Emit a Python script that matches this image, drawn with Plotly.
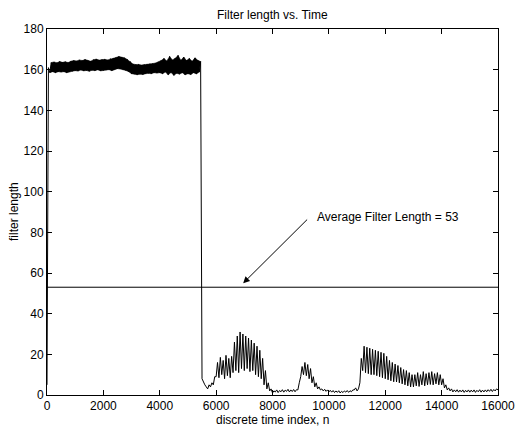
import plotly.graph_objects as go

# ---------------- data ----------------
# filter length envelope sampled every 100 time indices: (low, high) per block
block_start = list(range(0, 16001, 100))  # n = 0, 100, ..., 16000
low_vals = [
    5, 158.5, 159, 158.5, 159, 158.8, 159, 158.5, 159, 159.2,
    159.5, 159.3, 159.8, 159.4, 159.6, 159.2, 159.7, 159.5, 159.9, 159.4,
    159.6, 159.8, 160, 159.5, 160.2, 160.5, 160.3, 160, 159.6, 159,
    158, 157.8, 157.5, 157.8, 157.6, 158, 158.2, 158, 158.5, 158.3,
    158.5, 158, 158.8, 157.5, 158.6, 157.2, 158.2, 157.8, 158.5, 157.5,
    158, 157.6, 158.5, 157.9, 158.8, 8, 5, 3, 4, 5,
    9, 8.5, 10, 8, 9.5, 8.5, 11, 12, 11, 13,
    12, 13, 11.5, 12, 10, 9, 8, 5, 3, 2,
    1, 1.5, 1.2, 1.6, 1.4, 1.8, 1.5, 1.7, 1.6, 2.5,
    9, 10, 9.5, 8, 6, 4, 3, 2.5, 2, 1.8,
    1.5, 1.4, 1.2, 1.3, 1, 1.2, 1.4, 1.3, 1.6, 2.5,
    2, 6, 12, 11, 10.5, 10, 10, 9.5, 9, 8.5,
    8, 7.5, 7, 6.5, 6.4, 6, 5.5, 5, 4.5, 4,
    4, 4.5, 4.2, 5, 4.5, 5, 5.2, 5, 5.5, 5,
    5, 3.5, 2.5, 2, 1.5, 1.6, 1.4, 1.5, 1.3, 1.5,
    1.4, 1.5, 1.3, 1.6, 1.4, 1.5, 1.6, 1.8, 1.7, 2, 2.5,
]
high_vals = [
    161, 163.5, 163.8, 163.4, 164, 163.6, 163.9, 163.5, 164.2, 164.5,
    164.3, 164.8, 164.5, 165, 164.6, 164.2, 164.9, 165.2, 164.7, 165,
    165.1, 164.8, 165.4, 165.6, 166, 166.5, 166.2, 165.8, 165, 164,
    162.8, 162.5, 162.6, 162.3, 162.5, 162.7, 162.9, 163, 163.3, 163.8,
    164.5, 165.5, 164.3, 166.5, 164.8, 165.6, 167, 164.6, 166.2, 164.5,
    165.5, 164.2, 165.8, 164.6, 164, 6, 4, 5, 6, 9,
    16, 18.5, 17, 19.5, 18, 19, 26, 29, 31, 30,
    29, 28, 27, 25.5, 24, 22, 18, 12, 6, 3,
    2, 2.5, 2.2, 2.6, 2.4, 2.8, 2.5, 2.7, 2.6, 6,
    14, 16, 15, 13, 9, 6, 4, 3, 2.8, 2.5,
    2.3, 2.2, 2, 2.1, 1.8, 2, 2.2, 2.1, 2.5, 3.5,
    3, 18, 24, 23.5, 23, 22.5, 22, 21.5, 21, 20.5,
    19, 17, 16, 15.2, 14.5, 13.5, 12.5, 12, 11, 10,
    10, 11, 10, 11.5, 10.5, 11, 11.5, 10.5, 11, 10,
    8, 5, 3.5, 3, 2.5, 2.6, 2.4, 2.5, 2.3, 2.5,
    2.4, 2.5, 2.3, 2.6, 2.4, 2.5, 2.6, 2.8, 2.7, 3, 3,
]
average_length = 53
x_ticks = [0, 2000, 4000, 6000, 8000, 10000, 12000, 14000, 16000]
y_ticks = [0, 20, 40, 60, 80, 100, 120, 140, 160, 180]
half_block = 50

# ---------------- build traces ----------------
zig_x, zig_y = [], []
for n, lo, hi in zip(block_start, low_vals, high_vals):
    zig_x += [n, n + half_block]
    zig_y += [lo, hi]

# solid band for the dense high-length segment (blocks 1..54)
band_idx = list(range(1, 55))
band_x = [block_start[i] for i in band_idx] + [block_start[i] + half_block for i in reversed(band_idx)]
band_y = [low_vals[i] for i in band_idx] + [high_vals[i] for i in reversed(band_idx)]

FONT = "Liberation Sans, Arial, Helvetica, sans-serif"

fig = go.Figure()
fig.add_trace(go.Scatter(x=band_x, y=band_y, mode="lines", fill="toself",
                         fillcolor="black", line=dict(color="black", width=0.5),
                         hoverinfo="skip", showlegend=False))
fig.add_trace(go.Scatter(x=zig_x, y=zig_y, mode="lines",
                         line=dict(color="black", width=1), showlegend=False))
fig.add_trace(go.Scatter(x=[x_ticks[0], x_ticks[-1]], y=[average_length, average_length],
                         mode="lines", line=dict(color="black", width=1), showlegend=False))

axis_common = dict(showline=True, linecolor="black", linewidth=1, mirror="ticks",
                   ticks="inside", ticklen=5, tickcolor="black", showgrid=False,
                   zeroline=False, tickfont=dict(family=FONT, size=12, color="black"))

fig.update_layout(
    width=527, height=427,
    margin=dict(l=47, r=18, t=29, b=32),
    paper_bgcolor="white", plot_bgcolor="white",
    font=dict(family=FONT, size=12, color="black"),
    xaxis=dict(range=[0, 16000], tickvals=x_ticks, ticktext=[str(v) for v in x_ticks], **axis_common),
    yaxis=dict(range=[0, 180], tickvals=y_ticks, ticktext=[str(v) for v in y_ticks], **axis_common),
    showlegend=False,
)

fig.add_annotation(text="Filter length vs. Time", xref="paper", yref="paper",
                   x=0.5, y=1, yshift=14, showarrow=False, xanchor="center", yanchor="middle",
                   font=dict(family=FONT, size=12, color="black"))
fig.add_annotation(text="discrete time index, n", xref="paper", yref="paper",
                   x=0.5, y=0, yshift=-25, showarrow=False, xanchor="center", yanchor="middle",
                   font=dict(family=FONT, size=12, color="black"))
fig.add_annotation(text="filter length", xref="paper", yref="paper",
                   x=0, xshift=-33, y=0.5, textangle=-90, showarrow=False,
                   xanchor="center", yanchor="middle",
                   font=dict(family=FONT, size=12, color="black"))
# arrow
fig.add_annotation(x=6960, y=55, xref="x", yref="y", ax=9281, ay=87, axref="x", ayref="y",
                   text="", showarrow=True, arrowhead=2, arrowsize=1.3, arrowwidth=1,
                   arrowcolor="black")
fig.add_annotation(x=9500, y=87.7, xref="x", yref="y", text="Average Filter Length = 53",
                   showarrow=False, xanchor="left", yanchor="middle",
                   font=dict(family=FONT, size=12, color="black"))

fig.write_html("out.html")
